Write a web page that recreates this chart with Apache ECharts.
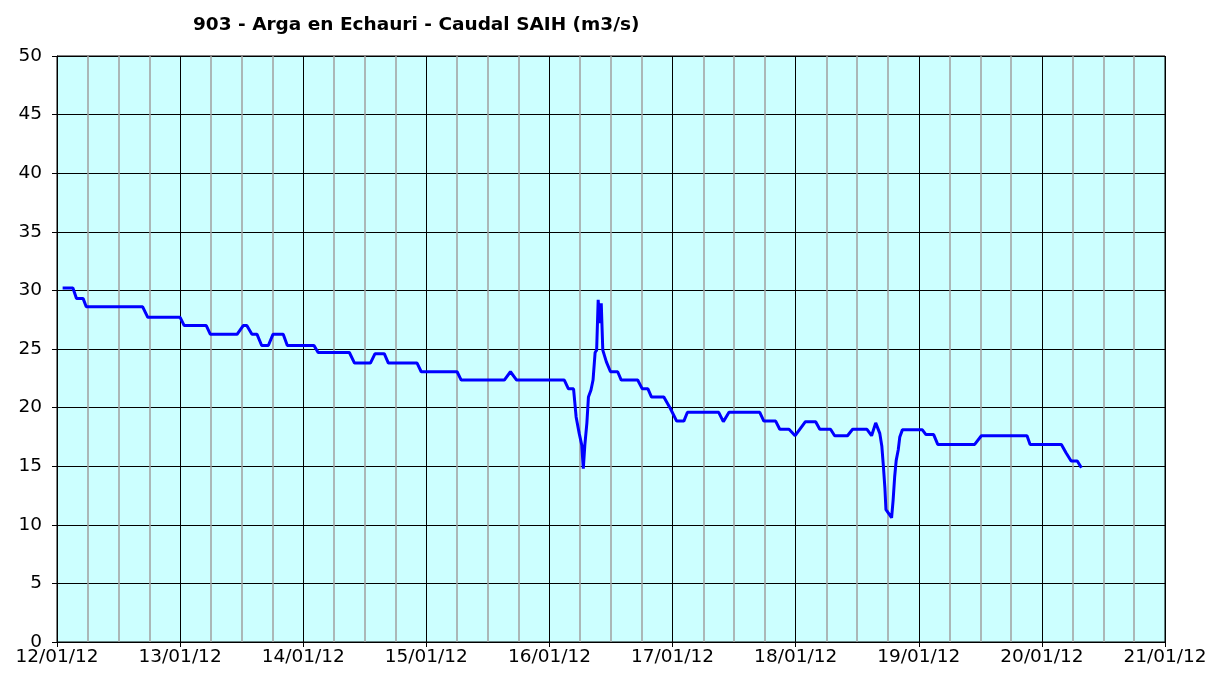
<!DOCTYPE html>
<html>
<head>
<meta charset="utf-8">
<script src="https://cdn.jsdelivr.net/npm/echarts@6/dist/echarts.min.js"></script>
<style>
  html, body { margin: 0; padding: 0; background: #fff; }
  #chart { width: 1211px; height: 677px; }
</style>
</head>
<body>
<div id="chart"></div>
<script>
// x = hours since 12/01/12 00:00
var dayLabels = ['12/01/12', '13/01/12', '14/01/12', '15/01/12', '16/01/12',
  '17/01/12', '18/01/12', '19/01/12', '20/01/12', '21/01/12'];

var hours = [
  1.1, 3.1, 3.8, 5.1, 5.7, 16.7, 17.7, 24.0, 24.8, 29.1, 29.9, 35.1, 36.3, 37.0, 38.0,
  39.0, 39.9, 41.2, 42.1, 44.1, 44.9, 50.1, 50.9, 57.0, 58.0, 61.1, 62.0, 63.8, 64.6,
  70.2, 71.0, 78.0, 78.8, 87.2, 88.4, 89.6, 98.9, 99.7, 100.7, 101.2, 101.8, 102.3,
  102.6, 102.9, 103.3, 103.6, 104.1, 104.5, 104.9, 105.2, 105.5, 105.8, 106.1, 106.4,
  107.1, 107.9, 109.3, 110.0, 113.2, 114.1, 115.2, 115.9, 118.3, 119.6, 120.8, 122.2,
  122.9, 129.0, 129.9, 131.0, 137.0, 137.8, 140.1, 140.9, 142.7, 143.9, 145.9, 147.9,
  148.7, 150.8, 151.6, 154.1, 155.1, 157.9, 158.8, 159.6, 160.4, 160.8, 161.1, 161.4,
  161.6, 162.4, 162.7, 163.0, 163.3, 163.6, 164.0, 164.3, 164.8, 168.7, 169.4, 170.9,
  171.7, 178.9, 180.2, 189.1, 189.7, 195.8, 196.7, 197.7, 198.9, 199.7
];

var caudal = [
  30.2, 30.2, 29.3, 29.3, 28.6, 28.6, 27.7, 27.7, 27.0, 27.0, 26.25, 26.25, 27.0, 27.0, 26.25,
  26.25, 25.3, 25.3, 26.25, 26.25, 25.3, 25.3, 24.7, 24.7, 23.8, 23.8, 24.6, 24.6, 23.8,
  23.8, 23.06, 23.06, 22.35, 22.35, 23.06, 22.35, 22.35, 21.6, 21.6, 19.2, 17.8, 16.8,
  14.8, 16.8, 18.7, 20.9, 21.5, 22.35, 24.7, 24.9, 29.2, 27.2, 28.9, 24.9,
  23.9, 23.06, 23.06, 22.35, 22.35, 21.6, 21.6, 20.9, 20.9, 19.9, 18.85, 18.85,
  19.6, 19.6, 18.8, 19.6, 19.6, 18.85, 18.85, 18.15, 18.15, 17.6, 18.8, 18.8,
  18.15, 18.15, 17.6, 17.6, 18.15, 18.15, 17.6, 18.7, 17.8, 16.7, 15.0, 13.1,
  11.3, 10.8, 10.6, 12.1, 14.1, 15.5, 16.4, 17.5, 18.1, 18.1, 17.7, 17.7,
  16.86, 16.86, 17.6, 17.6, 16.86, 16.86, 16.15, 15.45, 15.45, 14.87
];

var yTicks = [0, 5, 10, 15, 20, 25, 30, 35, 40, 45, 50];

var seriesData = hours.map(function (h, i) { return [h, caudal[i]]; });

var myChart = echarts.init(document.getElementById('chart'));
var option = {
    animation: false,
    backgroundColor: '#ffffff',
    title: {
        text: '903 - Arga en Echauri - Caudal SAIH (m3/s)',
        left: 188,
        top: 11,
        textStyle: {
            fontFamily: 'DejaVu Sans',
            fontSize: 18.5,
            fontWeight: 'bold',
            color: '#000'
        }
    },
    grid: {
        left: 57,
        right: 46,
        top: 56,
        bottom: 35,
        show: true,
        backgroundColor: '#ccffff',
        borderColor: '#000',
        borderWidth: 1
    },
    xAxis: {
        type: 'value',
        min: 0,
        max: 216,
        interval: 24,
        axisLine: { show: true, lineStyle: { color: '#000', width: 1 } },
        axisTick: { show: true, length: 5, lineStyle: { color: '#000' } },
        axisLabel: {
            color: '#000',
            fontFamily: 'DejaVu Sans',
            fontSize: 18.5,
            margin: 6,
            formatter: function (v) { return dayLabels[Math.round(v / 24)]; }
        },
        splitLine: { show: true, lineStyle: { color: '#000', width: 1 } },
        minorTick: { show: false, splitNumber: 4 },
        minorSplitLine: { show: true, lineStyle: { color: '#a0a0a0', width: 1.5 } }
    },
    yAxis: {
        type: 'value',
        min: yTicks[0],
        max: yTicks[yTicks.length - 1],
        interval: 5,
        axisLine: { show: true, lineStyle: { color: '#000', width: 1 } },
        axisTick: { show: true, length: 5, lineStyle: { color: '#000' } },
        axisLabel: {
            color: '#000',
            fontFamily: 'DejaVu Sans',
            fontSize: 18.5,
            margin: 15
        },
        splitLine: { show: true, lineStyle: { color: '#000', width: 1 } }
    },
    series: [
        {
            name: 'Caudal',
            type: 'line',
            data: seriesData,
            showSymbol: false,
            lineStyle: { color: '#0000ff', width: 3 },
            itemStyle: { color: '#0000ff' }
        }
    ]
};

myChart.setOption(option);
</script>
</body>
</html>
